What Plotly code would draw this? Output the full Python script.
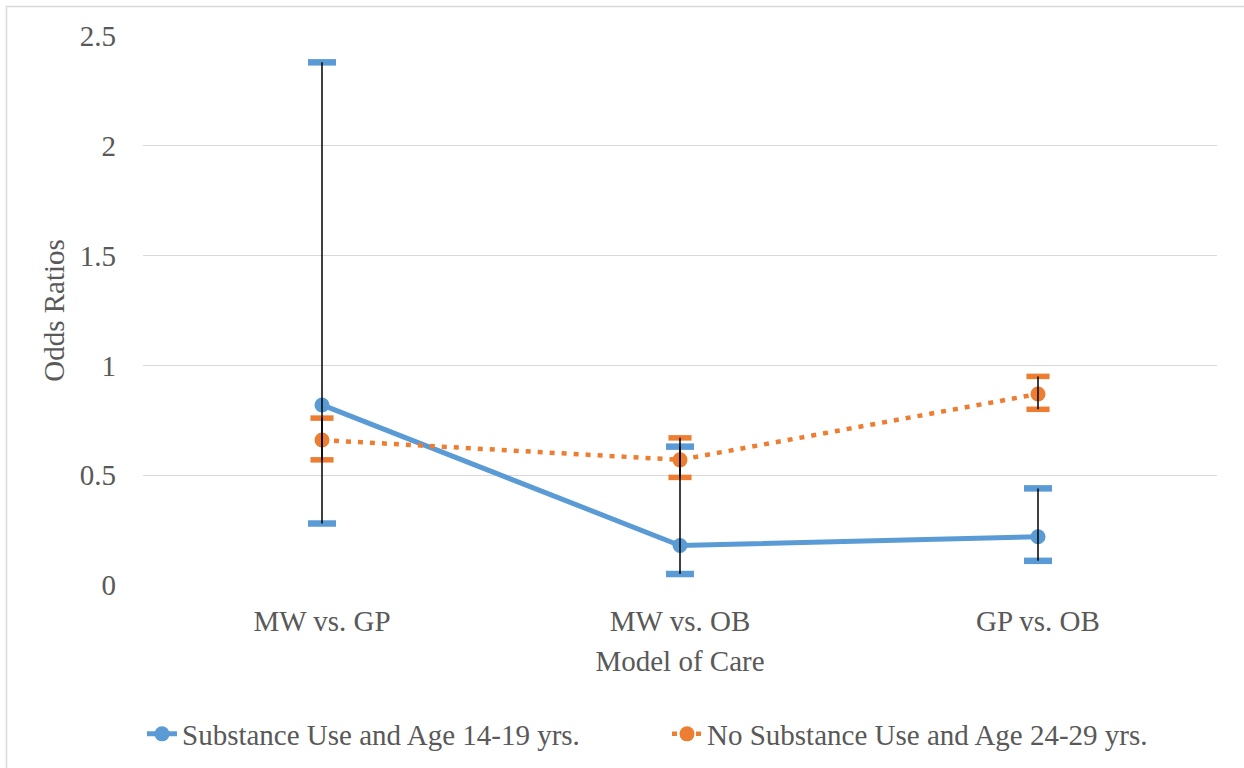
import plotly.graph_objects as go

categories = ["MW vs. GP", "MW vs. OB", "GP vs. OB"]
y_ticks = [0, 0.5, 1, 1.5, 2, 2.5]
y_tick_labels = ["0", "0.5", "1", "1.5", "2", "2.5"]

s1_name = "Substance Use and Age 14-19 yrs."
s1_or = [0.82, 0.18, 0.22]
s1_lo = [0.28, 0.05, 0.11]
s1_hi = [2.38, 0.63, 0.44]

s2_name = "No Substance Use and Age 24-29 yrs."
s2_or = [0.66, 0.57, 0.87]
s2_lo = [0.57, 0.49, 0.80]
s2_hi = [0.76, 0.67, 0.95]

BLUE = "#5B9BD5"
ORANGE = "#ED7D31"
TXT = "#595959"
GRID = "#D9D9D9"
FONT = "Liberation Serif"

fig = go.Figure()

fig.add_trace(go.Scatter(
    x=categories, y=s1_or, name=s1_name, mode="lines+markers",
    line=dict(color=BLUE, width=5),
    marker=dict(color=BLUE, size=15),
))
fig.add_trace(go.Scatter(
    x=categories, y=s2_or, name=s2_name, mode="lines+markers",
    line=dict(color=ORANGE, width=4.5, dash="5px,7px"),
    marker=dict(color=ORANGE, size=15),
))

# colored caps
for lo, hi, col, sz, lw in [(s1_lo, s1_hi, BLUE, 20, 6.5), (s2_lo, s2_hi, ORANGE, 16.5, 5.5)]:
    fig.add_trace(go.Scatter(
        x=categories + categories, y=lo + hi, mode="markers", showlegend=False,
        hoverinfo="skip",
        marker=dict(symbol="line-ew", size=sz, color=col, line=dict(color=col, width=lw)),
    ))

# black stems on top
for vals, lo, hi in [(s1_or, s1_lo, s1_hi), (s2_or, s2_lo, s2_hi)]:
    fig.add_trace(go.Scatter(
        x=categories, y=vals, mode="markers", showlegend=False, hoverinfo="skip",
        marker=dict(size=1, color="rgba(0,0,0,0)"),
        error_y=dict(type="data", symmetric=False,
                     array=[h - v for h, v in zip(hi, vals)],
                     arrayminus=[v - l for l, v in zip(lo, vals)],
                     color="black", thickness=1.5, width=0),
    ))

L, T, R, B = 143, 36, 27, 183
W, H = 1244, 768
pw, ph = W - L - R, H - T - B

fig.update_layout(
    width=W, height=H,
    margin=dict(l=L, r=R, t=T, b=B),
    paper_bgcolor="white", plot_bgcolor="white",
    font=dict(family=FONT, size=29, color=TXT),
    showlegend=True,
    legend=dict(orientation="h", xref="container", yref="container",
                x=142 / W, xanchor="left",
                y=(H - 734) / H, yanchor="middle",
                font=dict(family=FONT, size=29, color=TXT),
                bgcolor="rgba(0,0,0,0)", itemwidth=30,
                entrywidth=480, entrywidthmode="pixels"),
    xaxis=dict(range=[-0.5, 2.5], showgrid=False, zeroline=False, showline=False,
               ticks="", ticklabelstandoff=16,
               tickfont=dict(family=FONT, size=29, color=TXT),
               title=dict(text="Model of Care", standoff=14,
                          font=dict(family=FONT, size=29, color=TXT))),
    yaxis=dict(range=[0, 2.5], tickvals=y_ticks, ticktext=y_tick_labels,
               showgrid=True, gridcolor=GRID, gridwidth=1.3,
               zeroline=False, showline=False, ticks="", ticklabelstandoff=26,
               tickfont=dict(family=FONT, size=29, color=TXT),
               title=dict(text="Odds Ratios", standoff=6,
                          font=dict(family=FONT, size=29, color=TXT))),
    shapes=[dict(type="rect", xref="paper", yref="paper",
                 x0=(6.5 - L) / pw, x1=(W + 20 - L) / pw,
                 y0=(H - B - (H + 20)) / ph, y1=(H - B - 6.5) / ph,
                 line=dict(color=GRID, width=1.5), fillcolor="rgba(0,0,0,0)",
                 layer="below")],
)

fig.write_html("out.html", config={"displayModeBar": False},
               post_script="document.body.style.margin='0';")
